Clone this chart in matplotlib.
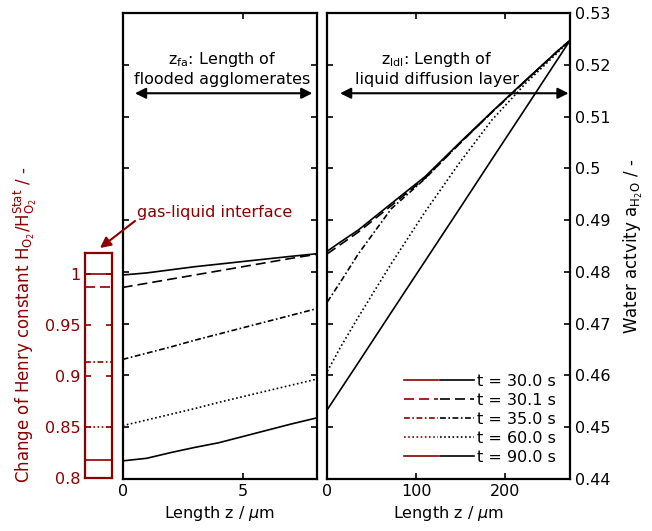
import numpy as np
import matplotlib
matplotlib.use("Agg")
import matplotlib.pyplot as plt
from matplotlib.lines import Line2D
from matplotlib.patches import FancyArrowPatch
from matplotlib.legend_handler import HandlerTuple

dred = "#8b0000"

# legend labels and henry constant ratio at the gas-liquid interface
labels = ["t = 30.0 s", "t = 30.1 s", "t = 35.0 s", "t = 60.0 s", "t = 90.0 s"]
henry_ratio = [1.0, 0.9869, 0.9139, 0.85, 0.8174]

# water activity in flooded agglomerates (z in um)
fa_z = [0, 1, 2, 3, 4, 5, 6, 7, 8.08]
fa_t30 = [0.4794, 0.4798, 0.4804, 0.4810, 0.4815, 0.4820, 0.4825, 0.4830, 0.4835]
fa_t30_1 = [0.4770, 0.4778, 0.4786, 0.4794, 0.4802, 0.4810, 0.4818, 0.4826, 0.4834]
fa_t35 = [0.4631, 0.4643, 0.4655, 0.4668, 0.4680, 0.4692, 0.4704, 0.4716, 0.4729]
fa_t60 = [0.4503, 0.4514, 0.4525, 0.4536, 0.4548, 0.4559, 0.4570, 0.4581, 0.4593]
fa_t90 = [0.4435, 0.4440, 0.4451, 0.4461, 0.4470, 0.4482, 0.4494, 0.4506, 0.4518]

# water activity in liquid diffusion layer (z in um)
ldl_z = [0, 15, 35, 72, 110, 148, 185, 223, 260, 273]
ldl_t30 = [0.4840, 0.4858, 0.4881, 0.4932, 0.4984, 0.5048, 0.5109, 0.5170, 0.5228, 0.5247]
ldl_t30_1 = [0.4835, 0.4853, 0.4877, 0.4928, 0.4981, 0.5046, 0.5108, 0.5169, 0.5228, 0.5247]
ldl_t35 = [0.4742, 0.4781, 0.4835, 0.4922, 0.4980, 0.5047, 0.5108, 0.5169, 0.5228, 0.5247]
ldl_t60 = [0.4608, 0.4655, 0.4713, 0.4816, 0.4916, 0.5009, 0.5093, 0.5164, 0.5225, 0.5247]
ldl_t90 = [0.4534, 0.4573, 0.4625, 0.4722, 0.4821, 0.4920, 0.5017, 0.5116, 0.5213, 0.5247]

styles = ["-", (0, (6, 3)), (0, (3.5, 1.5, 1, 1.5)), (0, (1, 1.5)), "-"]
lw = 1.2
fs = 11.5

plt.rcParams["font.family"] = "DejaVu Sans"
plt.rcParams["font.size"] = fs

W, H = 652, 531
fig = plt.figure(figsize=(W / 100, H / 100), dpi=100)
ax_l = fig.add_axes([85 / W, 53.3 / H, 27.3 / W, 224.4 / H])
ax_m = fig.add_axes([122.7 / W, 52 / H, 194 / W, 466 / H])
ax_r = fig.add_axes([327.3 / W, 52 / H, 242.7 / W, 466 / H], sharey=ax_m)

# left panel: henry constant
for val, ls in zip(henry_ratio, styles):
    ax_l.axhline(val, color=dred, ls=ls, lw=lw)
ax_l.set_ylim(0.8, 1.0203)
ax_l.set_xlim(0, 1)
ax_l.set_xticks([])
ax_l.set_yticks([0.8, 0.85, 0.9, 0.95, 1.0])
ax_l.set_yticklabels(["0.8", "0.85", "0.9", "0.95", "1"])
ax_l.tick_params(axis="y", direction="in", left=True, right=True, colors=dred,
                 length=4, width=1.2, labelsize=fs)
for sp in ax_l.spines.values():
    sp.set_color(dred)
    sp.set_linewidth(1.6)
ax_l.set_ylabel("Change of Henry constant H$_{\\mathrm{O_2}}$/H$_{\\mathrm{O_2}}^{\\mathrm{Stat}}$ / -",
                color=dred, fontsize=12)
ax_l.yaxis.set_label_coords(-1.7, 0.68)

# middle panel: flooded agglomerates
for ys, ls in zip([fa_t30, fa_t30_1, fa_t35, fa_t60, fa_t90], styles):
    ax_m.plot(fa_z, ys, color="k", ls=ls, lw=lw)
ax_m.set_xlim(0, 8.08)
ax_m.set_ylim(0.44, 0.53)
ax_m.set_xticks([0, 5])
ax_m.set_yticks(np.arange(0.44, 0.5301, 0.01))
ax_m.tick_params(labelleft=False)
ax_m.set_xlabel("Length z / $\\mu$m", labelpad=4)

# right panel: liquid diffusion layer
for ys, ls in zip([ldl_t30, ldl_t30_1, ldl_t35, ldl_t60, ldl_t90], styles):
    ax_r.plot(ldl_z, ys, color="k", ls=ls, lw=lw)
ax_r.set_xlim(0, 273)
ax_r.set_xticks([0, 100, 200])
ax_r.set_yticks(np.arange(0.44, 0.5301, 0.01))
ax_r.set_yticklabels(["0.44", "0.45", "0.46", "0.47", "0.48", "0.49", "0.5",
                      "0.51", "0.52", "0.53"])
ax_r.tick_params(labelleft=False, labelright=True)
ax_r.yaxis.set_label_position("right")
ax_r.set_ylabel("Water actvity a$_{\\mathrm{H_2O}}$ / -", labelpad=8, fontsize=12)
ax_r.set_xlabel("Length z / $\\mu$m", labelpad=4)

for ax in (ax_m, ax_r):
    ax.tick_params(direction="in", top=True, right=True, left=True, bottom=True,
                   length=4, width=1.2, labelsize=fs)
    for sp in ax.spines.values():
        sp.set_linewidth(1.6)

# length annotations
arrow_y = 0.5145
text_y = 0.5158
ax_m.annotate("", xy=(0.51, arrow_y), xytext=(7.9, arrow_y),
              arrowprops=dict(arrowstyle="<|-|>", color="k", lw=1.5,
                              mutation_scale=16, shrinkA=0, shrinkB=0))
ax_m.text(4.16, text_y, "z$_{\\mathrm{fa}}$: Length of\nflooded agglomerates",
          ha="center", va="bottom", fontsize=fs)
ax_r.annotate("", xy=(14.3, arrow_y), xytext=(271.4, arrow_y),
              arrowprops=dict(arrowstyle="<|-|>", color="k", lw=1.5,
                              mutation_scale=16, shrinkA=0, shrinkB=0))
ax_r.text(123, text_y, "z$_{\\mathrm{ldl}}$: Length of\nliquid diffusion layer",
          ha="center", va="bottom", fontsize=fs)

# gas-liquid interface pointer
fig.text(215 / W, 1 - 212 / H, "gas-liquid interface", color=dred,
         ha="center", va="center", fontsize=fs)
fig.add_artist(FancyArrowPatch((135 / W, 1 - 221 / H), (100 / W, 1 - 248 / H),
                               transform=fig.transFigure, arrowstyle="-|>",
                               mutation_scale=16, color=dred, lw=1.5,
                               shrinkA=0, shrinkB=0))

# legend with red + black handle pairs
handles = []
for ls in styles:
    handles.append((Line2D([], [], color=dred, ls=ls, lw=lw),
                    Line2D([], [], color="k", ls=ls, lw=lw)))
ax_r.legend(handles, labels, handler_map={tuple: HandlerTuple(ndivide=None, pad=0.15)},
            loc="lower right", bbox_to_anchor=(0.94, 0.03), frameon=False,
            handlelength=4.4, handletextpad=0.15, labelspacing=0.25,
            borderpad=0, borderaxespad=0, fontsize=fs)

fig.savefig("out.png", dpi=100)
